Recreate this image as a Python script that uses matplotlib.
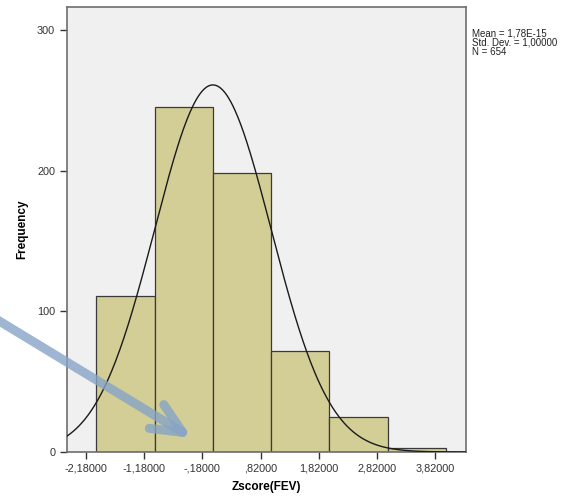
import numpy as np
import matplotlib
matplotlib.use("Agg")
import matplotlib.pyplot as plt

plt.rcParams['font.family'] = ['Liberation Sans', 'DejaVu Sans']

bin_edges = [-2.0, -1.0, 0.0, 1.0, 2.0, 3.0, 4.0]
counts = [111, 245, 198, 72, 25, 3]
xticks = [-2.18, -1.18, -0.18, 0.82, 1.82, 2.82, 3.82]
xtick_labels = ["-2,18000", "-1,18000", "-,18000", ",82000", "1,82000", "2,82000", "3,82000"]
yticks = [0, 100, 200, 300]
mean, sd, n = 0.0, 1.0, 654
stats_text = "Mean = 1,78E-15\nStd. Dev. = 1,00000\nN = 654"

fig = plt.figure(figsize=(5.74, 4.98), dpi=100)
ax = fig.add_axes([0.1167, 0.0924, 0.6944, 0.8936])
ax.set_facecolor('#f0f0f0')

widths = np.diff(bin_edges)
ax.bar(bin_edges[:-1], counts, width=widths, align='edge',
       color='#d3cd96', edgecolor='#3a3a3a', linewidth=0.9, zorder=2)

xlo, xhi = -2.506, 4.339
xs = np.linspace(xlo, xhi, 400)
bw = bin_edges[1] - bin_edges[0]
ys = n * bw / (sd * np.sqrt(2 * np.pi)) * np.exp(-0.5 * ((xs - mean) / sd) ** 2)
ax.plot(xs, ys, color='#1a1a1a', linewidth=1.0, zorder=3)

ax.set_xlim(xlo, xhi)
ax.set_ylim(0, 316.3)
ax.set_xticks(xticks)
ax.set_xticklabels(xtick_labels)
ax.set_yticks(yticks)
ax.tick_params(axis='both', labelsize=7.8, colors='#333333', length=5, width=1, direction='out')
for s in ax.spines.values():
    s.set_color('#6e6e6e')
    s.set_linewidth(1.2)

ax.set_ylabel('Frequency', fontsize=8.5, fontweight='bold')
ax.yaxis.set_label_coords(-0.098, 0.5)
ax.set_xlabel('Zscore(FEV)', fontsize=8.5, fontweight='bold')
ax.xaxis.set_label_coords(0.5, -0.066)

fig.text(472 / 574, 1 - 28 / 498, stats_text, fontsize=7.0, va='top', ha='left',
         color='#222222', linespacing=0.95)

# decorative arrow (figure coordinates)
ax.annotate('', xy=(192 / 574, 1 - 438 / 498), xycoords='figure fraction',
            xytext=(-0.01, 1 - 318 / 498), textcoords='figure fraction',
            arrowprops=dict(arrowstyle='->,head_length=2.2,head_width=1.0',
                            color='#86a4c6', alpha=0.8, linewidth=6.5,
                            shrinkA=0, shrinkB=0), annotation_clip=False)

fig.savefig('out.png', dpi=100)
